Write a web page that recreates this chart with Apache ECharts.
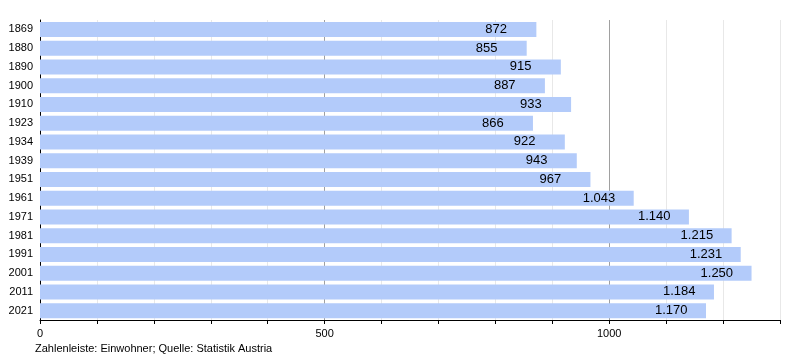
<!DOCTYPE html>
<html><head><meta charset="utf-8">
<script src="https://cdn.jsdelivr.net/npm/echarts@6/dist/echarts.min.js"></script>
<style>html,body{margin:0;padding:0;background:#fff}#c{width:800px;height:360px}</style>
</head><body><div id="c"></div>
<script>
const years = ['1869','1880','1890','1900','1910','1923','1934','1939','1951','1961','1971','1981','1991','2001','2011','2021'];
const population = [872,855,915,887,933,866,922,943,967,1043,1140,1215,1231,1250,1184,1170];
const xTickLabels = [0,500,1000];
const footnote = 'Zahlenleiste: Einwohner; Quelle: Statistik Austria';

const chart = echarts.init(document.getElementById('c'));
const L = '#e8e8e8', D = '#a0a0a0';
chart.setOption({
  animation:false,
  textStyle:{fontFamily:'Liberation Sans, Arial, sans-serif'},
  grid:{left:40,right:20,top:20,bottom:40},
  graphic:[{type:'text',left:35,top:343,style:{text:footnote,font:'11px Liberation Sans, Arial, sans-serif',fill:'#000'}}],
  xAxis:{type:'value',min:0,max:1300,interval:100,
    axisLine:{show:true,lineStyle:{color:'#000',width:1}},
    axisTick:{show:true,length:4,lineStyle:{color:'#000'}},
    axisLabel:{color:'#000',fontSize:11,margin:8,formatter:v=>xTickLabels.includes(v)?String(v):''},
    splitLine:{show:true,lineStyle:{width:1,color:[L,L,L,L,L,D,L,L,L,L,D,L,L,L]}}},
  yAxis:{type:'category',data:years,inverse:true,
    axisLine:{show:true,lineStyle:{color:'#000',width:1}},
    axisTick:{show:false},
    axisLabel:{color:'#000',fontSize:11,margin:7}},
  series:[{type:'bar',data:population,barWidth:15,
    itemStyle:{color:'#b3cbfa'},
    label:{show:true,position:'insideRight',distance:51,align:'left',color:'#000',fontSize:13,
      formatter:p=>p.value.toLocaleString('de-DE')}}]
});
</script></body></html>
